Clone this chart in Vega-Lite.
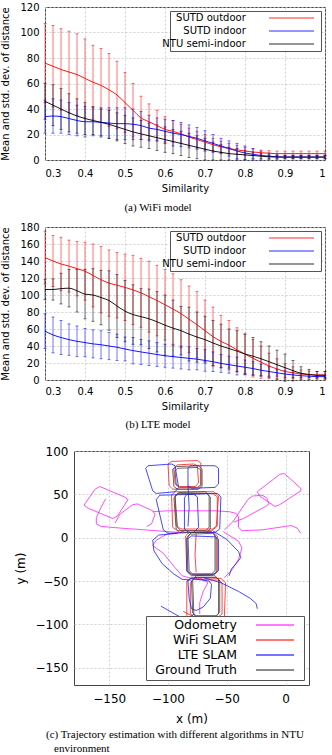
{
"$schema": "https://vega.github.io/schema/vega-lite/v6.json",
"padding": {"left": 0, "top": 1, "right": 0, "bottom": 0},
"background": "white",
"config": {
  "font": "DejaVu Sans",
  "view": {"stroke": "#444", "strokeWidth": 1},
  "axis": {"grid": true, "gridColor": "#c4c4c4", "gridDash": [2, 2], "gridWidth": 0.8, "domain": false, "ticks": false,
           "labelFont": "DejaVu Sans", "labelFontSize": 10, "labelColor": "#000", "titleFont": "DejaVu Sans", "titleFontSize": 10, "titleFontWeight": "normal", "titleColor": "#000"},
  "title": {"font": "Liberation Serif, DejaVu Sans", "fontSize": 11, "fontWeight": "normal", "color": "#000"},
  "legend": {"labelFont": "DejaVu Sans", "labelColor": "#000", "labelLimit": 400}
},
"resolve": {"scale": {"color": "independent"}, "legend": {"color": "independent"}},
"spacing": 13,
"vconcat": [
{
"resolve": {"scale": {"color": "independent"}, "legend": {"color": "independent"}},
"spacing": 8,
"vconcat": [
{
  "width": 280, "height": 153,
  "title": {"text": "(a) WiFi model", "orient": "bottom", "anchor": "middle", "frame": "group", "dx": -27, "offset": 8},
  "data": {"values": [
{"sim":0.3,"k":"SUTD outdoor","m":76,"sd":31},{"sim":0.32,"k":"SUTD outdoor","m":73.5,"sd":32},{"sim":0.34,"k":"SUTD outdoor","m":71,"sd":32},{"sim":0.36,"k":"SUTD outdoor","m":69,"sd":32},{"sim":0.38,"k":"SUTD outdoor","m":67,"sd":32},{"sim":0.4,"k":"SUTD outdoor","m":64,"sd":31},{"sim":0.42,"k":"SUTD outdoor","m":61,"sd":29},{"sim":0.44,"k":"SUTD outdoor","m":58.5,"sd":29},{"sim":0.46,"k":"SUTD outdoor","m":55,"sd":28.5},{"sim":0.48,"k":"SUTD outdoor","m":51,"sd":26.5},{"sim":0.5,"k":"SUTD outdoor","m":45,"sd":23.5},{"sim":0.52,"k":"SUTD outdoor","m":39,"sd":21},{"sim":0.54,"k":"SUTD outdoor","m":33,"sd":17},{"sim":0.56,"k":"SUTD outdoor","m":30,"sd":14},{"sim":0.58,"k":"SUTD outdoor","m":27,"sd":12},{"sim":0.6,"k":"SUTD outdoor","m":24,"sd":10},{"sim":0.62,"k":"SUTD outdoor","m":22.5,"sd":8.5},{"sim":0.64,"k":"SUTD outdoor","m":20.5,"sd":7.5},{"sim":0.66,"k":"SUTD outdoor","m":18,"sd":7},{"sim":0.68,"k":"SUTD outdoor","m":16,"sd":6.5},{"sim":0.7,"k":"SUTD outdoor","m":14,"sd":6},{"sim":0.72,"k":"SUTD outdoor","m":12,"sd":5},{"sim":0.74,"k":"SUTD outdoor","m":10.3,"sd":4.5},{"sim":0.76,"k":"SUTD outdoor","m":9,"sd":4},{"sim":0.78,"k":"SUTD outdoor","m":8,"sd":3.5},{"sim":0.8,"k":"SUTD outdoor","m":7,"sd":3},{"sim":0.82,"k":"SUTD outdoor","m":6.3,"sd":2.5},{"sim":0.84,"k":"SUTD outdoor","m":5.7,"sd":2},{"sim":0.86,"k":"SUTD outdoor","m":5.3,"sd":2},{"sim":0.88,"k":"SUTD outdoor","m":5,"sd":2},{"sim":0.9,"k":"SUTD outdoor","m":5,"sd":2},{"sim":0.92,"k":"SUTD outdoor","m":5,"sd":2},{"sim":0.94,"k":"SUTD outdoor","m":5,"sd":2},{"sim":0.96,"k":"SUTD outdoor","m":5,"sd":2},{"sim":0.98,"k":"SUTD outdoor","m":5,"sd":2},{"sim":1,"k":"SUTD outdoor","m":5,"sd":2},
{"sim":0.3,"k":"SUTD indoor","m":34,"sd":13},{"sim":0.32,"k":"SUTD indoor","m":34.5,"sd":13.5},{"sim":0.34,"k":"SUTD indoor","m":34,"sd":13},{"sim":0.36,"k":"SUTD indoor","m":32.5,"sd":12.5},{"sim":0.38,"k":"SUTD indoor","m":31,"sd":12},{"sim":0.4,"k":"SUTD indoor","m":30,"sd":12},{"sim":0.42,"k":"SUTD indoor","m":30,"sd":11},{"sim":0.44,"k":"SUTD indoor","m":29.5,"sd":11.5},{"sim":0.46,"k":"SUTD indoor","m":29,"sd":12},{"sim":0.48,"k":"SUTD indoor","m":28.5,"sd":12.5},{"sim":0.5,"k":"SUTD indoor","m":28.5,"sd":12.5},{"sim":0.52,"k":"SUTD indoor","m":28,"sd":12},{"sim":0.54,"k":"SUTD indoor","m":27,"sd":11},{"sim":0.56,"k":"SUTD indoor","m":25,"sd":10},{"sim":0.58,"k":"SUTD indoor","m":24,"sd":9},{"sim":0.6,"k":"SUTD indoor","m":22.5,"sd":9.5},{"sim":0.62,"k":"SUTD indoor","m":21,"sd":10},{"sim":0.64,"k":"SUTD indoor","m":20,"sd":9.5},{"sim":0.66,"k":"SUTD indoor","m":18.5,"sd":9},{"sim":0.68,"k":"SUTD indoor","m":17,"sd":8.5},{"sim":0.7,"k":"SUTD indoor","m":15,"sd":8},{"sim":0.72,"k":"SUTD indoor","m":13,"sd":7},{"sim":0.74,"k":"SUTD indoor","m":11,"sd":6},{"sim":0.76,"k":"SUTD indoor","m":9,"sd":6},{"sim":0.78,"k":"SUTD indoor","m":7,"sd":6},{"sim":0.8,"k":"SUTD indoor","m":5.5,"sd":5.5},{"sim":0.82,"k":"SUTD indoor","m":4.5,"sd":4.5},{"sim":0.84,"k":"SUTD indoor","m":3.5,"sd":3.5},{"sim":0.86,"k":"SUTD indoor","m":3,"sd":2.5},{"sim":0.88,"k":"SUTD indoor","m":2.5,"sd":2},{"sim":0.9,"k":"SUTD indoor","m":2.3,"sd":1.5},{"sim":0.92,"k":"SUTD indoor","m":2.3,"sd":1.5},{"sim":0.94,"k":"SUTD indoor","m":2.3,"sd":1.5},{"sim":0.96,"k":"SUTD indoor","m":2.3,"sd":1.5},{"sim":0.98,"k":"SUTD indoor","m":2.3,"sd":1.5},{"sim":1,"k":"SUTD indoor","m":2.3,"sd":1.5},
{"sim":0.3,"k":"NTU semi-indoor","m":46,"sd":14},{"sim":0.32,"k":"NTU semi-indoor","m":43,"sd":16},{"sim":0.34,"k":"NTU semi-indoor","m":40,"sd":16},{"sim":0.36,"k":"NTU semi-indoor","m":37,"sd":15},{"sim":0.38,"k":"NTU semi-indoor","m":34.5,"sd":13.5},{"sim":0.4,"k":"NTU semi-indoor","m":32.5,"sd":12.5},{"sim":0.42,"k":"NTU semi-indoor","m":31,"sd":11},{"sim":0.44,"k":"NTU semi-indoor","m":29.5,"sd":10.5},{"sim":0.46,"k":"NTU semi-indoor","m":28,"sd":11},{"sim":0.48,"k":"NTU semi-indoor","m":26,"sd":11},{"sim":0.5,"k":"NTU semi-indoor","m":24,"sd":11},{"sim":0.52,"k":"NTU semi-indoor","m":22,"sd":11},{"sim":0.54,"k":"NTU semi-indoor","m":20.5,"sd":10.5},{"sim":0.56,"k":"NTU semi-indoor","m":19,"sd":10},{"sim":0.58,"k":"NTU semi-indoor","m":17.5,"sd":10},{"sim":0.6,"k":"NTU semi-indoor","m":16,"sd":10},{"sim":0.62,"k":"NTU semi-indoor","m":14.5,"sd":9.5},{"sim":0.64,"k":"NTU semi-indoor","m":13,"sd":9.5},{"sim":0.66,"k":"NTU semi-indoor","m":11.5,"sd":9.5},{"sim":0.68,"k":"NTU semi-indoor","m":10,"sd":9},{"sim":0.7,"k":"NTU semi-indoor","m":8.5,"sd":8.5},{"sim":0.72,"k":"NTU semi-indoor","m":7,"sd":7},{"sim":0.74,"k":"NTU semi-indoor","m":6,"sd":6},{"sim":0.76,"k":"NTU semi-indoor","m":5,"sd":5},{"sim":0.78,"k":"NTU semi-indoor","m":4.5,"sd":4.5},{"sim":0.8,"k":"NTU semi-indoor","m":4,"sd":3.5},{"sim":0.82,"k":"NTU semi-indoor","m":3.5,"sd":2.5},{"sim":0.84,"k":"NTU semi-indoor","m":3,"sd":2},{"sim":0.86,"k":"NTU semi-indoor","m":2.5,"sd":1.5},{"sim":0.88,"k":"NTU semi-indoor","m":2.3,"sd":1.2},{"sim":0.9,"k":"NTU semi-indoor","m":2.3,"sd":1.2},{"sim":0.92,"k":"NTU semi-indoor","m":2.3,"sd":1.2},{"sim":0.94,"k":"NTU semi-indoor","m":2.3,"sd":1.2},{"sim":0.96,"k":"NTU semi-indoor","m":2.3,"sd":1.2},{"sim":0.98,"k":"NTU semi-indoor","m":2.3,"sd":1.2},{"sim":1,"k":"NTU semi-indoor","m":2.3,"sd":1.2}
  ]},
  "encoding": {
    "x": {"field": "sim", "type": "quantitative", "scale": {"domain": [0.3, 1], "nice": false, "zero": false},
          "axis": {"values": [0.3, 0.4, 0.5, 0.6, 0.7, 0.8, 0.9, 1], "format": "~g", "title": "Similarity", "labelPadding": 8.5, "titlePadding": 5}},
    "y": {"field": "m", "type": "quantitative", "scale": {"domain": [0, 120], "nice": false},
          "axis": {"values": [0, 20, 40, 60, 80, 100, 120], "title": "Mean and std. dev. of distance", "labelPadding": 6, "titlePadding": 9}},
    "color": {"field": "k", "type": "nominal",
              "scale": {"domain": ["SUTD outdoor", "SUTD indoor", "NTU semi-indoor"], "range": ["#ff0000", "#0000ff", "#000000"]},
              "legend": {"title": null, "orient": "top-right", "offset": 4, "symbolType": "stroke", "symbolSize": 2025, "symbolStrokeWidth": 1.5,
                         "labelAlign": "right", "labelOffset": 4, "symbolOffset": 96, "labelFontSize": 10,
                         "labelExpr": "datum.label + '\u2800\u2800\u2800\u2800\u2800\u2800\u2800\u2800\u2800\u2800'",
                         "fillColor": "white", "strokeColor": "#555", "padding": 2, "clipHeight": 10, "rowPadding": 3}}
  },
  "layer": [
    {"mark": {"type": "errorbar", "ticks": {"size": 3, "opacity": 0.55}, "rule": {"opacity": 0.55, "strokeWidth": 1}}, "encoding": {"yError": {"field": "sd"}}},
    {"mark": {"type": "line", "strokeWidth": 1, "interpolate": "monotone", "opacity": 0.9}}
  ]
},
{
  "width": 280, "height": 153,
  "title": {"text": "(b) LTE model", "orient": "bottom", "anchor": "middle", "frame": "group", "dx": -27, "offset": 8},
  "data": {"values": [
{"sim":0.3,"k":"SUTD outdoor","m":144,"sd":31},{"sim":0.32,"k":"SUTD outdoor","m":140,"sd":30},{"sim":0.34,"k":"SUTD outdoor","m":136.5,"sd":31.5},{"sim":0.36,"k":"SUTD outdoor","m":134,"sd":30.5},{"sim":0.38,"k":"SUTD outdoor","m":131,"sd":32},{"sim":0.4,"k":"SUTD outdoor","m":128,"sd":34},{"sim":0.42,"k":"SUTD outdoor","m":123,"sd":37},{"sim":0.44,"k":"SUTD outdoor","m":118,"sd":39},{"sim":0.46,"k":"SUTD outdoor","m":114,"sd":39},{"sim":0.48,"k":"SUTD outdoor","m":111.5,"sd":38.5},{"sim":0.5,"k":"SUTD outdoor","m":109,"sd":39},{"sim":0.52,"k":"SUTD outdoor","m":106,"sd":40.7},{"sim":0.54,"k":"SUTD outdoor","m":102.5,"sd":40.5},{"sim":0.56,"k":"SUTD outdoor","m":98,"sd":41.7},{"sim":0.58,"k":"SUTD outdoor","m":93.5,"sd":41.5},{"sim":0.6,"k":"SUTD outdoor","m":88.5,"sd":41.5},{"sim":0.62,"k":"SUTD outdoor","m":83.5,"sd":41.5},{"sim":0.64,"k":"SUTD outdoor","m":78,"sd":40},{"sim":0.66,"k":"SUTD outdoor","m":71.5,"sd":39},{"sim":0.68,"k":"SUTD outdoor","m":65,"sd":39},{"sim":0.7,"k":"SUTD outdoor","m":58,"sd":36},{"sim":0.72,"k":"SUTD outdoor","m":51,"sd":34.7},{"sim":0.74,"k":"SUTD outdoor","m":45.5,"sd":30.5},{"sim":0.76,"k":"SUTD outdoor","m":41,"sd":29},{"sim":0.78,"k":"SUTD outdoor","m":35.5,"sd":26},{"sim":0.8,"k":"SUTD outdoor","m":30.5,"sd":24.5},{"sim":0.82,"k":"SUTD outdoor","m":25.5,"sd":22},{"sim":0.84,"k":"SUTD outdoor","m":21,"sd":19},{"sim":0.86,"k":"SUTD outdoor","m":16.5,"sd":15},{"sim":0.88,"k":"SUTD outdoor","m":13,"sd":12},{"sim":0.9,"k":"SUTD outdoor","m":10,"sd":9},{"sim":0.92,"k":"SUTD outdoor","m":8.5,"sd":7},{"sim":0.94,"k":"SUTD outdoor","m":7,"sd":5},{"sim":0.96,"k":"SUTD outdoor","m":6.5,"sd":4},{"sim":0.98,"k":"SUTD outdoor","m":6,"sd":4},{"sim":1,"k":"SUTD outdoor","m":6,"sd":4},
{"sim":0.3,"k":"SUTD indoor","m":57.5,"sd":20.5},{"sim":0.32,"k":"SUTD indoor","m":53,"sd":21},{"sim":0.34,"k":"SUTD indoor","m":50,"sd":20},{"sim":0.36,"k":"SUTD indoor","m":47.5,"sd":18.5},{"sim":0.38,"k":"SUTD indoor","m":45.5,"sd":18},{"sim":0.4,"k":"SUTD indoor","m":44,"sd":16.6},{"sim":0.42,"k":"SUTD indoor","m":42.5,"sd":16.5},{"sim":0.44,"k":"SUTD indoor","m":41.5,"sd":16.5},{"sim":0.46,"k":"SUTD indoor","m":40,"sd":16},{"sim":0.48,"k":"SUTD indoor","m":38.5,"sd":15.5},{"sim":0.5,"k":"SUTD indoor","m":36.5,"sd":14},{"sim":0.52,"k":"SUTD indoor","m":34.5,"sd":15.5},{"sim":0.54,"k":"SUTD indoor","m":33,"sd":14.7},{"sim":0.56,"k":"SUTD indoor","m":31.5,"sd":14.5},{"sim":0.58,"k":"SUTD indoor","m":30,"sd":14},{"sim":0.6,"k":"SUTD indoor","m":28.5,"sd":13.5},{"sim":0.62,"k":"SUTD indoor","m":27.5,"sd":13.5},{"sim":0.64,"k":"SUTD indoor","m":26.5,"sd":13.5},{"sim":0.66,"k":"SUTD indoor","m":25.5,"sd":13.5},{"sim":0.68,"k":"SUTD indoor","m":24.5,"sd":12.5},{"sim":0.7,"k":"SUTD indoor","m":23,"sd":12.6},{"sim":0.72,"k":"SUTD indoor","m":21.5,"sd":11.5},{"sim":0.74,"k":"SUTD indoor","m":19.5,"sd":10.5},{"sim":0.76,"k":"SUTD indoor","m":18,"sd":10},{"sim":0.78,"k":"SUTD indoor","m":16.5,"sd":10.5},{"sim":0.8,"k":"SUTD indoor","m":15,"sd":8.5},{"sim":0.82,"k":"SUTD indoor","m":13.5,"sd":8},{"sim":0.84,"k":"SUTD indoor","m":11.5,"sd":7},{"sim":0.86,"k":"SUTD indoor","m":10,"sd":5.6},{"sim":0.88,"k":"SUTD indoor","m":8.5,"sd":4},{"sim":0.9,"k":"SUTD indoor","m":7,"sd":4},{"sim":0.92,"k":"SUTD indoor","m":6,"sd":3},{"sim":0.94,"k":"SUTD indoor","m":5,"sd":2},{"sim":0.96,"k":"SUTD indoor","m":4.5,"sd":1.5},{"sim":0.98,"k":"SUTD indoor","m":4,"sd":1},{"sim":1,"k":"SUTD indoor","m":4,"sd":1},
{"sim":0.3,"k":"NTU semi-indoor","m":106.5,"sd":12},{"sim":0.32,"k":"NTU semi-indoor","m":106.5,"sd":12.5},{"sim":0.34,"k":"NTU semi-indoor","m":107.5,"sd":18},{"sim":0.36,"k":"NTU semi-indoor","m":108,"sd":22},{"sim":0.38,"k":"NTU semi-indoor","m":105,"sd":25},{"sim":0.4,"k":"NTU semi-indoor","m":101,"sd":29},{"sim":0.42,"k":"NTU semi-indoor","m":100,"sd":31},{"sim":0.44,"k":"NTU semi-indoor","m":97,"sd":32},{"sim":0.46,"k":"NTU semi-indoor","m":93.5,"sd":35},{"sim":0.48,"k":"NTU semi-indoor","m":87,"sd":37},{"sim":0.5,"k":"NTU semi-indoor","m":81,"sd":36},{"sim":0.52,"k":"NTU semi-indoor","m":77,"sd":35},{"sim":0.54,"k":"NTU semi-indoor","m":74.5,"sd":33},{"sim":0.56,"k":"NTU semi-indoor","m":72,"sd":35},{"sim":0.58,"k":"NTU semi-indoor","m":68.5,"sd":35.5},{"sim":0.6,"k":"NTU semi-indoor","m":64.5,"sd":35.5},{"sim":0.62,"k":"NTU semi-indoor","m":61,"sd":33},{"sim":0.64,"k":"NTU semi-indoor","m":58,"sd":28.5},{"sim":0.66,"k":"NTU semi-indoor","m":54,"sd":31.7},{"sim":0.68,"k":"NTU semi-indoor","m":50.5,"sd":29.5},{"sim":0.7,"k":"NTU semi-indoor","m":47.5,"sd":27.5},{"sim":0.72,"k":"NTU semi-indoor","m":43.5,"sd":26.5},{"sim":0.74,"k":"NTU semi-indoor","m":40,"sd":25.7},{"sim":0.76,"k":"NTU semi-indoor","m":37,"sd":23},{"sim":0.78,"k":"NTU semi-indoor","m":34,"sd":24},{"sim":0.8,"k":"NTU semi-indoor","m":30.5,"sd":23},{"sim":0.82,"k":"NTU semi-indoor","m":28,"sd":22},{"sim":0.84,"k":"NTU semi-indoor","m":25,"sd":20},{"sim":0.86,"k":"NTU semi-indoor","m":21.5,"sd":18.5},{"sim":0.88,"k":"NTU semi-indoor","m":18,"sd":17},{"sim":0.9,"k":"NTU semi-indoor","m":14.5,"sd":16},{"sim":0.92,"k":"NTU semi-indoor","m":11,"sd":12},{"sim":0.94,"k":"NTU semi-indoor","m":8,"sd":7.6},{"sim":0.96,"k":"NTU semi-indoor","m":6.5,"sd":6},{"sim":0.98,"k":"NTU semi-indoor","m":5.5,"sd":4.5},{"sim":1,"k":"NTU semi-indoor","m":5.5,"sd":4.5}
  ]},
  "encoding": {
    "x": {"field": "sim", "type": "quantitative", "scale": {"domain": [0.3, 1], "nice": false, "zero": false},
          "axis": {"values": [0.3, 0.4, 0.5, 0.6, 0.7, 0.8, 0.9, 1], "format": "~g", "title": "Similarity", "labelPadding": 6, "titlePadding": 5}},
    "y": {"field": "m", "type": "quantitative", "scale": {"domain": [0, 180], "nice": false},
          "axis": {"values": [0, 20, 40, 60, 80, 100, 120, 140, 160, 180], "title": "Mean and std. dev. of distance", "labelPadding": 6, "titlePadding": 9}},
    "color": {"field": "k", "type": "nominal",
              "scale": {"domain": ["SUTD outdoor", "SUTD indoor", "NTU semi-indoor"], "range": ["#ff0000", "#0000ff", "#000000"]},
              "legend": {"title": null, "orient": "top-right", "offset": 4, "symbolType": "stroke", "symbolSize": 2025, "symbolStrokeWidth": 1.5,
                         "labelAlign": "right", "labelOffset": 4, "symbolOffset": 96, "labelFontSize": 10,
                         "labelExpr": "datum.label + '\u2800\u2800\u2800\u2800\u2800\u2800\u2800\u2800\u2800\u2800'",
                         "fillColor": "white", "strokeColor": "#555", "padding": 2, "clipHeight": 10, "rowPadding": 3}}
  },
  "layer": [
    {"mark": {"type": "errorbar", "ticks": {"size": 3, "opacity": 0.55}, "rule": {"opacity": 0.55, "strokeWidth": 1}}, "encoding": {"yError": {"field": "sd"}}},
    {"mark": {"type": "line", "strokeWidth": 1, "interpolate": "monotone", "opacity": 0.9}}
  ]
}
]
},
{
  "resolve": {"scale": {"color": "independent"}, "legend": {"color": "independent"}},
  "spacing": -33,
  "hconcat": [
    {"width": 1, "height": 1, "view": {"stroke": null, "fill": "white"}, "data": {"values": []}, "mark": "point"},
    {
      "width": 235, "height": 234,
      "title": {"text": ["(c) Trajectory estimation with different algorithms in NTU", "\u2800environment"], "orient": "bottom", "anchor": "start", "frame": "group", "dx": -28, "offset": 5, "lineHeight": 14},
      "data": {"values": [
{"s":"Odometry","g":"m1","o":1,"x":-153,"y":45},{"s":"Odometry","g":"m1","o":2,"x":-157,"y":35},{"s":"Odometry","g":"m1","o":3,"x":-161,"y":23},{"s":"Odometry","g":"m1","o":4,"x":-161,"y":16},{"s":"Odometry","g":"m1","o":5,"x":-157,"y":13},{"s":"Odometry","g":"m1","o":6,"x":-140,"y":11},{"s":"Odometry","g":"m1","o":7,"x":-120,"y":9},{"s":"Odometry","g":"m1","o":8,"x":-100,"y":7},{"s":"Odometry","g":"m1","o":9,"x":-90,"y":6},{"s":"Odometry","g":"m1","o":10,"x":-86,"y":8},
{"s":"Odometry","g":"m2","o":1,"x":-171.5,"y":37.5},{"s":"Odometry","g":"m2","o":2,"x":-162,"y":56},{"s":"Odometry","g":"m2","o":3,"x":-158,"y":59},{"s":"Odometry","g":"m2","o":4,"x":-137,"y":47},{"s":"Odometry","g":"m2","o":5,"x":-134,"y":44},{"s":"Odometry","g":"m2","o":6,"x":-143,"y":25},{"s":"Odometry","g":"m2","o":7,"x":-147,"y":22},{"s":"Odometry","g":"m2","o":8,"x":-168,"y":34},{"s":"Odometry","g":"m2","o":9,"x":-171.5,"y":37.5},
{"s":"Odometry","g":"m3","o":1,"x":-145,"y":17},{"s":"Odometry","g":"m3","o":2,"x":-141,"y":27},{"s":"Odometry","g":"m3","o":3,"x":-130,"y":38},{"s":"Odometry","g":"m3","o":4,"x":-126,"y":39},{"s":"Odometry","g":"m3","o":5,"x":-113,"y":31},{"s":"Odometry","g":"m3","o":6,"x":-111,"y":27},{"s":"Odometry","g":"m3","o":7,"x":-114,"y":16},{"s":"Odometry","g":"m3","o":8,"x":-118,"y":13},
{"s":"Odometry","g":"m4","o":1,"x":-113,"y":30},{"s":"Odometry","g":"m4","o":2,"x":-100,"y":31},{"s":"Odometry","g":"m4","o":3,"x":-80,"y":31},{"s":"Odometry","g":"m4","o":4,"x":-60,"y":31},{"s":"Odometry","g":"m4","o":5,"x":-48,"y":30},{"s":"Odometry","g":"m4","o":6,"x":-42,"y":28},{"s":"Odometry","g":"m4","o":7,"x":-40,"y":24},{"s":"Odometry","g":"m4","o":8,"x":-40,"y":12},{"s":"Odometry","g":"m4","o":9,"x":-37,"y":8},{"s":"Odometry","g":"m4","o":10,"x":-20,"y":9},{"s":"Odometry","g":"m4","o":11,"x":0,"y":13},{"s":"Odometry","g":"m4","o":12,"x":5,"y":14},{"s":"Odometry","g":"m4","o":13,"x":10,"y":11},{"s":"Odometry","g":"m4","o":14,"x":13,"y":5},
{"s":"Odometry","g":"m5","o":1,"x":-52,"y":9},{"s":"Odometry","g":"m5","o":2,"x":-45,"y":18},{"s":"Odometry","g":"m5","o":3,"x":-32,"y":44},{"s":"Odometry","g":"m5","o":4,"x":-28,"y":48},{"s":"Odometry","g":"m5","o":5,"x":-20,"y":49},{"s":"Odometry","g":"m5","o":6,"x":-16,"y":46},{"s":"Odometry","g":"m5","o":7,"x":-14,"y":39},{"s":"Odometry","g":"m5","o":8,"x":-17,"y":36},{"s":"Odometry","g":"m5","o":9,"x":-36,"y":22},{"s":"Odometry","g":"m5","o":10,"x":-44,"y":18},
{"s":"Odometry","g":"m6","o":1,"x":-24,"y":53},{"s":"Odometry","g":"m6","o":2,"x":-5,"y":73},{"s":"Odometry","g":"m6","o":3,"x":-1,"y":74},{"s":"Odometry","g":"m6","o":4,"x":13,"y":57},{"s":"Odometry","g":"m6","o":5,"x":13,"y":54},{"s":"Odometry","g":"m6","o":6,"x":-5,"y":38},{"s":"Odometry","g":"m6","o":7,"x":-9,"y":36},{"s":"Odometry","g":"m6","o":8,"x":-22,"y":48},{"s":"Odometry","g":"m6","o":9,"x":-24,"y":53},
{"s":"Odometry","g":"m7","o":1,"x":-90,"y":6},{"s":"Odometry","g":"m7","o":2,"x":-101,"y":4},{"s":"Odometry","g":"m7","o":3,"x":-110,"y":-3},{"s":"Odometry","g":"m7","o":4,"x":-113,"y":-9},{"s":"Odometry","g":"m7","o":5,"x":-104,"y":-18},{"s":"Odometry","g":"m7","o":6,"x":-95,"y":-33},{"s":"Odometry","g":"m7","o":7,"x":-88,"y":-44},{"s":"Odometry","g":"m7","o":8,"x":-80,"y":-47},{"s":"Odometry","g":"m7","o":9,"x":-72,"y":-47},{"s":"Odometry","g":"m7","o":10,"x":-66,"y":-52},{"s":"Odometry","g":"m7","o":11,"x":-70,"y":-62},{"s":"Odometry","g":"m7","o":12,"x":-73,"y":-75},{"s":"Odometry","g":"m7","o":13,"x":-73,"y":-88},
{"s":"Odometry","g":"m8","o":1,"x":-53,"y":7},{"s":"Odometry","g":"m8","o":2,"x":-40,"y":-4},{"s":"Odometry","g":"m8","o":3,"x":-37,"y":-12},{"s":"Odometry","g":"m8","o":4,"x":-40,"y":-25},{"s":"Odometry","g":"m8","o":5,"x":-46,"y":-38},{"s":"Odometry","g":"m8","o":6,"x":-52,"y":-46},
{"s":"WiFi SLAM","g":"r1","o":1,"x":-97,"y":88},{"s":"WiFi SLAM","g":"r1","o":2,"x":-100,"y":85},{"s":"WiFi SLAM","g":"r1","o":3,"x":-99,"y":60},{"s":"WiFi SLAM","g":"r1","o":4,"x":-96,"y":56},{"s":"WiFi SLAM","g":"r1","o":5,"x":-75,"y":56},{"s":"WiFi SLAM","g":"r1","o":6,"x":-72,"y":60},{"s":"WiFi SLAM","g":"r1","o":7,"x":-72,"y":86},{"s":"WiFi SLAM","g":"r1","o":8,"x":-75,"y":89},{"s":"WiFi SLAM","g":"r1","o":9,"x":-97,"y":88},
{"s":"WiFi SLAM","g":"r1b","o":1,"x":-92,"y":84},{"s":"WiFi SLAM","g":"r1b","o":2,"x":-95,"y":80},{"s":"WiFi SLAM","g":"r1b","o":3,"x":-94,"y":62},{"s":"WiFi SLAM","g":"r1b","o":4,"x":-90,"y":59},{"s":"WiFi SLAM","g":"r1b","o":5,"x":-77,"y":59},{"s":"WiFi SLAM","g":"r1b","o":6,"x":-74,"y":63},{"s":"WiFi SLAM","g":"r1b","o":7,"x":-75,"y":83},{"s":"WiFi SLAM","g":"r1b","o":8,"x":-78,"y":85},{"s":"WiFi SLAM","g":"r1b","o":9,"x":-92,"y":84},
{"s":"WiFi SLAM","g":"r2","o":1,"x":-94,"y":53},{"s":"WiFi SLAM","g":"r2","o":2,"x":-97,"y":49},{"s":"WiFi SLAM","g":"r2","o":3,"x":-96,"y":12},{"s":"WiFi SLAM","g":"r2","o":4,"x":-92,"y":8},{"s":"WiFi SLAM","g":"r2","o":5,"x":-63,"y":8},{"s":"WiFi SLAM","g":"r2","o":6,"x":-59,"y":12},{"s":"WiFi SLAM","g":"r2","o":7,"x":-57,"y":48},{"s":"WiFi SLAM","g":"r2","o":8,"x":-61,"y":53},{"s":"WiFi SLAM","g":"r2","o":9,"x":-94,"y":53},
{"s":"WiFi SLAM","g":"r2b","o":1,"x":-92,"y":51},{"s":"WiFi SLAM","g":"r2b","o":2,"x":-94,"y":47},{"s":"WiFi SLAM","g":"r2b","o":3,"x":-93,"y":14},{"s":"WiFi SLAM","g":"r2b","o":4,"x":-89,"y":10},{"s":"WiFi SLAM","g":"r2b","o":5,"x":-62,"y":10},{"s":"WiFi SLAM","g":"r2b","o":6,"x":-58,"y":14},{"s":"WiFi SLAM","g":"r2b","o":7,"x":-58,"y":47},{"s":"WiFi SLAM","g":"r2b","o":8,"x":-62,"y":51},{"s":"WiFi SLAM","g":"r2b","o":9,"x":-92,"y":51},
{"s":"WiFi SLAM","g":"r3","o":1,"x":-82,"y":6},{"s":"WiFi SLAM","g":"r3","o":2,"x":-85,"y":2},{"s":"WiFi SLAM","g":"r3","o":3,"x":-84,"y":-39},{"s":"WiFi SLAM","g":"r3","o":4,"x":-80,"y":-43},{"s":"WiFi SLAM","g":"r3","o":5,"x":-62,"y":-43},{"s":"WiFi SLAM","g":"r3","o":6,"x":-58,"y":-39},{"s":"WiFi SLAM","g":"r3","o":7,"x":-58,"y":2},{"s":"WiFi SLAM","g":"r3","o":8,"x":-61,"y":6},{"s":"WiFi SLAM","g":"r3","o":9,"x":-82,"y":6},
{"s":"WiFi SLAM","g":"r3b","o":1,"x":-76,"y":5},{"s":"WiFi SLAM","g":"r3b","o":2,"x":-77,"y":-20},{"s":"WiFi SLAM","g":"r3b","o":3,"x":-76,"y":-40},
{"s":"WiFi SLAM","g":"r4","o":1,"x":-80,"y":-46},{"s":"WiFi SLAM","g":"r4","o":2,"x":-84,"y":-50},{"s":"WiFi SLAM","g":"r4","o":3,"x":-84,"y":-90},{"s":"WiFi SLAM","g":"r4","o":4,"x":-80,"y":-95},{"s":"WiFi SLAM","g":"r4","o":5,"x":-56,"y":-95},{"s":"WiFi SLAM","g":"r4","o":6,"x":-52,"y":-91},{"s":"WiFi SLAM","g":"r4","o":7,"x":-51,"y":-52},{"s":"WiFi SLAM","g":"r4","o":8,"x":-55,"y":-47},{"s":"WiFi SLAM","g":"r4","o":9,"x":-80,"y":-46},
{"s":"WiFi SLAM","g":"r4b","o":1,"x":-78,"y":-48},{"s":"WiFi SLAM","g":"r4b","o":2,"x":-81,"y":-52},{"s":"WiFi SLAM","g":"r4b","o":3,"x":-81,"y":-88},{"s":"WiFi SLAM","g":"r4b","o":4,"x":-77,"y":-92},{"s":"WiFi SLAM","g":"r4b","o":5,"x":-58,"y":-92},{"s":"WiFi SLAM","g":"r4b","o":6,"x":-54,"y":-88},{"s":"WiFi SLAM","g":"r4b","o":7,"x":-54,"y":-52},{"s":"WiFi SLAM","g":"r4b","o":8,"x":-57,"y":-49},{"s":"WiFi SLAM","g":"r4b","o":9,"x":-78,"y":-48},
{"s":"WiFi SLAM","g":"r5","o":1,"x":-87,"y":-85},{"s":"WiFi SLAM","g":"r5","o":2,"x":-80,"y":-90},{"s":"WiFi SLAM","g":"r5","o":3,"x":-72,"y":-94},{"s":"WiFi SLAM","g":"r5","o":4,"x":-62,"y":-96},
{"s":"LTE SLAM","g":"b1","o":1,"x":-117,"y":83},{"s":"LTE SLAM","g":"b1","o":2,"x":-97,"y":85},{"s":"LTE SLAM","g":"b1","o":3,"x":-94,"y":83},{"s":"LTE SLAM","g":"b1","o":4,"x":-91,"y":58},{"s":"LTE SLAM","g":"b1","o":5,"x":-94,"y":53},{"s":"LTE SLAM","g":"b1","o":6,"x":-110,"y":51},{"s":"LTE SLAM","g":"b1","o":7,"x":-113,"y":54},{"s":"LTE SLAM","g":"b1","o":8,"x":-119,"y":80},{"s":"LTE SLAM","g":"b1","o":9,"x":-117,"y":83},
{"s":"LTE SLAM","g":"b2","o":1,"x":-81,"y":83},{"s":"LTE SLAM","g":"b2","o":2,"x":-60,"y":83},{"s":"LTE SLAM","g":"b2","o":3,"x":-57,"y":80},{"s":"LTE SLAM","g":"b2","o":4,"x":-57,"y":62},{"s":"LTE SLAM","g":"b2","o":5,"x":-60,"y":58},{"s":"LTE SLAM","g":"b2","o":6,"x":-80,"y":57},{"s":"LTE SLAM","g":"b2","o":7,"x":-83,"y":60},{"s":"LTE SLAM","g":"b2","o":8,"x":-83,"y":80},{"s":"LTE SLAM","g":"b2","o":9,"x":-81,"y":83},
{"s":"LTE SLAM","g":"b2v","o":1,"x":-83,"y":60},{"s":"LTE SLAM","g":"b2v","o":2,"x":-82,"y":35},{"s":"LTE SLAM","g":"b2v","o":3,"x":-83,"y":13},
{"s":"LTE SLAM","g":"b3","o":1,"x":-107,"y":49},{"s":"LTE SLAM","g":"b3","o":2,"x":-78,"y":50},{"s":"LTE SLAM","g":"b3","o":3,"x":-75,"y":47},{"s":"LTE SLAM","g":"b3","o":4,"x":-74,"y":12},{"s":"LTE SLAM","g":"b3","o":5,"x":-78,"y":6},{"s":"LTE SLAM","g":"b3","o":6,"x":-100,"y":5},{"s":"LTE SLAM","g":"b3","o":7,"x":-104,"y":9},{"s":"LTE SLAM","g":"b3","o":8,"x":-110,"y":44},{"s":"LTE SLAM","g":"b3","o":9,"x":-107,"y":49},
{"s":"LTE SLAM","g":"b4","o":1,"x":-84,"y":50},{"s":"LTE SLAM","g":"b4","o":2,"x":-58,"y":51},{"s":"LTE SLAM","g":"b4","o":3,"x":-55,"y":47},{"s":"LTE SLAM","g":"b4","o":4,"x":-56,"y":10},{"s":"LTE SLAM","g":"b4","o":5,"x":-60,"y":6},{"s":"LTE SLAM","g":"b4","o":6,"x":-82,"y":6},{"s":"LTE SLAM","g":"b4","o":7,"x":-86,"y":10},{"s":"LTE SLAM","g":"b4","o":8,"x":-86,"y":46},{"s":"LTE SLAM","g":"b4","o":9,"x":-84,"y":50},
{"s":"LTE SLAM","g":"b5","o":1,"x":-92,"y":5},{"s":"LTE SLAM","g":"b5","o":2,"x":-108,"y":3},{"s":"LTE SLAM","g":"b5","o":3,"x":-113,"y":-3},{"s":"LTE SLAM","g":"b5","o":4,"x":-112,"y":-15},{"s":"LTE SLAM","g":"b5","o":5,"x":-105,"y":-30},{"s":"LTE SLAM","g":"b5","o":6,"x":-95,"y":-42},{"s":"LTE SLAM","g":"b5","o":7,"x":-88,"y":-48},{"s":"LTE SLAM","g":"b5","o":8,"x":-80,"y":-49},
{"s":"LTE SLAM","g":"b6","o":1,"x":-80,"y":2},{"s":"LTE SLAM","g":"b6","o":2,"x":-60,"y":1},{"s":"LTE SLAM","g":"b6","o":3,"x":-57,"y":-2},{"s":"LTE SLAM","g":"b6","o":4,"x":-57,"y":-38},{"s":"LTE SLAM","g":"b6","o":5,"x":-60,"y":-42},{"s":"LTE SLAM","g":"b6","o":6,"x":-80,"y":-42},{"s":"LTE SLAM","g":"b6","o":7,"x":-84,"y":-38},{"s":"LTE SLAM","g":"b6","o":8,"x":-84,"y":-2},{"s":"LTE SLAM","g":"b6","o":9,"x":-80,"y":2},
{"s":"LTE SLAM","g":"b7","o":1,"x":-62,"y":8},{"s":"LTE SLAM","g":"b7","o":2,"x":-50,"y":-2},{"s":"LTE SLAM","g":"b7","o":3,"x":-40,"y":-16},{"s":"LTE SLAM","g":"b7","o":4,"x":-38,"y":-23},{"s":"LTE SLAM","g":"b7","o":5,"x":-42,"y":-30},{"s":"LTE SLAM","g":"b7","o":6,"x":-46,"y":-36},{"s":"LTE SLAM","g":"b7","o":7,"x":-48,"y":-44},
{"s":"LTE SLAM","g":"b8","o":1,"x":-70,"y":-46},{"s":"LTE SLAM","g":"b8","o":2,"x":-55,"y":-52},{"s":"LTE SLAM","g":"b8","o":3,"x":-40,"y":-62},{"s":"LTE SLAM","g":"b8","o":4,"x":-30,"y":-70},{"s":"LTE SLAM","g":"b8","o":5,"x":-25,"y":-76},{"s":"LTE SLAM","g":"b8","o":6,"x":-24,"y":-82},
{"s":"LTE SLAM","g":"b9","o":1,"x":-81,"y":-47},{"s":"LTE SLAM","g":"b9","o":2,"x":-65,"y":-50},{"s":"LTE SLAM","g":"b9","o":3,"x":-63,"y":-54},{"s":"LTE SLAM","g":"b9","o":4,"x":-64,"y":-70},{"s":"LTE SLAM","g":"b9","o":5,"x":-70,"y":-80},{"s":"LTE SLAM","g":"b9","o":6,"x":-76,"y":-84},{"s":"LTE SLAM","g":"b9","o":7,"x":-80,"y":-82},{"s":"LTE SLAM","g":"b9","o":8,"x":-82,"y":-70},{"s":"LTE SLAM","g":"b9","o":9,"x":-83,"y":-50},{"s":"LTE SLAM","g":"b9","o":10,"x":-81,"y":-47},
{"s":"LTE SLAM","g":"b10","o":1,"x":-106,"y":-79},{"s":"LTE SLAM","g":"b10","o":2,"x":-97,"y":-86},{"s":"LTE SLAM","g":"b10","o":3,"x":-89,"y":-92},{"s":"LTE SLAM","g":"b10","o":4,"x":-84,"y":-95},{"s":"LTE SLAM","g":"b10","o":5,"x":-78,"y":-88},
{"s":"Ground Truth","g":"t1","o":1,"x":-76,"y":-90},{"s":"Ground Truth","g":"t1","o":2,"x":-79,"y":-87},{"s":"Ground Truth","g":"t1","o":3,"x":-80,"y":-50},{"s":"Ground Truth","g":"t1","o":4,"x":-77,"y":-46},{"s":"Ground Truth","g":"t1","o":5,"x":-59,"y":-46},{"s":"Ground Truth","g":"t1","o":6,"x":-56,"y":-49},{"s":"Ground Truth","g":"t1","o":7,"x":-56,"y":-86},{"s":"Ground Truth","g":"t1","o":8,"x":-59,"y":-90},{"s":"Ground Truth","g":"t1","o":9,"x":-76,"y":-90},
{"s":"Ground Truth","g":"t1b","o":1,"x":-75,"y":-92},{"s":"Ground Truth","g":"t1b","o":2,"x":-78,"y":-89},{"s":"Ground Truth","g":"t1b","o":3,"x":-79,"y":-49},{"s":"Ground Truth","g":"t1b","o":4,"x":-76,"y":-44},{"s":"Ground Truth","g":"t1b","o":5,"x":-60,"y":-44},{"s":"Ground Truth","g":"t1b","o":6,"x":-57,"y":-48},{"s":"Ground Truth","g":"t1b","o":7,"x":-57,"y":-88},{"s":"Ground Truth","g":"t1b","o":8,"x":-60,"y":-92},{"s":"Ground Truth","g":"t1b","o":9,"x":-75,"y":-92},
{"s":"Ground Truth","g":"t2","o":1,"x":-81,"y":4},{"s":"Ground Truth","g":"t2","o":2,"x":-84,"y":0},{"s":"Ground Truth","g":"t2","o":3,"x":-83,"y":-40},{"s":"Ground Truth","g":"t2","o":4,"x":-80,"y":-44},{"s":"Ground Truth","g":"t2","o":5,"x":-62,"y":-43},{"s":"Ground Truth","g":"t2","o":6,"x":-59,"y":-40},{"s":"Ground Truth","g":"t2","o":7,"x":-59,"y":1},{"s":"Ground Truth","g":"t2","o":8,"x":-62,"y":5},{"s":"Ground Truth","g":"t2","o":9,"x":-81,"y":4},
{"s":"Ground Truth","g":"t2b","o":1,"x":-80,"y":6},{"s":"Ground Truth","g":"t2b","o":2,"x":-83,"y":2},{"s":"Ground Truth","g":"t2b","o":3,"x":-82,"y":-38},{"s":"Ground Truth","g":"t2b","o":4,"x":-79,"y":-42},{"s":"Ground Truth","g":"t2b","o":5,"x":-63,"y":-42},{"s":"Ground Truth","g":"t2b","o":6,"x":-60,"y":-38},{"s":"Ground Truth","g":"t2b","o":7,"x":-60,"y":3},{"s":"Ground Truth","g":"t2b","o":8,"x":-63,"y":7},{"s":"Ground Truth","g":"t2b","o":9,"x":-80,"y":6},
{"s":"Ground Truth","g":"t3","o":1,"x":-92,"y":50},{"s":"Ground Truth","g":"t3","o":2,"x":-95,"y":46},{"s":"Ground Truth","g":"t3","o":3,"x":-93,"y":10},{"s":"Ground Truth","g":"t3","o":4,"x":-90,"y":6},{"s":"Ground Truth","g":"t3","o":5,"x":-67,"y":6},{"s":"Ground Truth","g":"t3","o":6,"x":-64,"y":10},{"s":"Ground Truth","g":"t3","o":7,"x":-64,"y":47},{"s":"Ground Truth","g":"t3","o":8,"x":-67,"y":51},{"s":"Ground Truth","g":"t3","o":9,"x":-92,"y":50},
{"s":"Ground Truth","g":"t3b","o":1,"x":-91,"y":52},{"s":"Ground Truth","g":"t3b","o":2,"x":-94,"y":48},{"s":"Ground Truth","g":"t3b","o":3,"x":-92,"y":12},{"s":"Ground Truth","g":"t3b","o":4,"x":-89,"y":8},{"s":"Ground Truth","g":"t3b","o":5,"x":-68,"y":8},{"s":"Ground Truth","g":"t3b","o":6,"x":-65,"y":12},{"s":"Ground Truth","g":"t3b","o":7,"x":-65,"y":48},{"s":"Ground Truth","g":"t3b","o":8,"x":-68,"y":53},{"s":"Ground Truth","g":"t3b","o":9,"x":-91,"y":52},
{"s":"Ground Truth","g":"t4","o":1,"x":-93,"y":82},{"s":"Ground Truth","g":"t4","o":2,"x":-96,"y":79},{"s":"Ground Truth","g":"t4","o":3,"x":-95,"y":59},{"s":"Ground Truth","g":"t4","o":4,"x":-92,"y":56},{"s":"Ground Truth","g":"t4","o":5,"x":-74,"y":56},{"s":"Ground Truth","g":"t4","o":6,"x":-71,"y":59},{"s":"Ground Truth","g":"t4","o":7,"x":-71,"y":79},{"s":"Ground Truth","g":"t4","o":8,"x":-74,"y":83},{"s":"Ground Truth","g":"t4","o":9,"x":-93,"y":82},
{"s":"Ground Truth","g":"t4b","o":1,"x":-92,"y":80},{"s":"Ground Truth","g":"t4b","o":2,"x":-94,"y":77},{"s":"Ground Truth","g":"t4b","o":3,"x":-93,"y":61},{"s":"Ground Truth","g":"t4b","o":4,"x":-90,"y":58},{"s":"Ground Truth","g":"t4b","o":5,"x":-75,"y":58},{"s":"Ground Truth","g":"t4b","o":6,"x":-72,"y":61},{"s":"Ground Truth","g":"t4b","o":7,"x":-72,"y":78},{"s":"Ground Truth","g":"t4b","o":8,"x":-75,"y":81},{"s":"Ground Truth","g":"t4b","o":9,"x":-92,"y":80}
      ]},
      "mark": {"type": "line", "strokeWidth": 1, "opacity": 0.8, "clip": true},
      "encoding": {
        "x": {"field": "x", "type": "quantitative", "scale": {"domain": [-180, 20], "nice": false, "zero": false},
              "axis": {"values": [-150, -100, -50, 0], "title": "x (m)", "labelFontSize": 12, "titleFontSize": 12, "labelPadding": 8, "titlePadding": 9}},
        "y": {"field": "y", "type": "quantitative", "scale": {"domain": [-170, 100], "nice": false, "zero": false},
              "axis": {"values": [-150, -100, -50, 0, 50, 100], "title": "y (m)", "labelFontSize": 12, "titleFontSize": 12, "labelPadding": 6, "titlePadding": 8}},
        "color": {"field": "s", "type": "nominal",
                  "scale": {"domain": ["Odometry", "WiFi SLAM", "LTE SLAM", "Ground Truth"], "range": ["#ff22ff", "#ff1a1a", "#1a1aff", "#404040"]},
                  "legend": {"title": null, "orient": "bottom-right", "offset": 5, "symbolType": "stroke", "symbolSize": 1444, "symbolStrokeWidth": 1.5,
                             "labelAlign": "right", "labelOffset": 6, "symbolOffset": 106, "labelFontSize": 12.5, "symbolOpacity": 0.8,
                             "labelExpr": "datum.label + '\u2800\u2800\u2800\u2800\u2800\u2800\u2800'",
                             "fillColor": "white", "strokeColor": "#555", "padding": 3, "clipHeight": 12, "rowPadding": 2}},
        "detail": {"field": "g"},
        "order": {"field": "o", "type": "quantitative"}
      }
    }
  ]
}
]
}
